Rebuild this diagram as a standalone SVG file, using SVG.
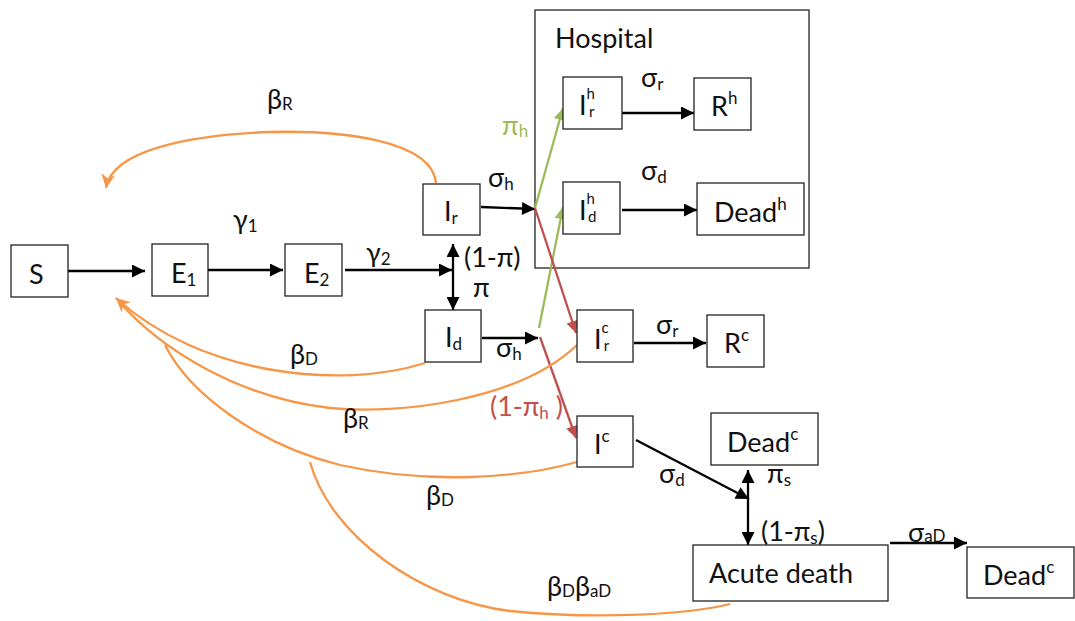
<svg xmlns="http://www.w3.org/2000/svg" width="1075" height="621" viewBox="0 0 1075 621">
<defs>
<style>
.box{fill:#fff;stroke:#222;stroke-width:1.3}
.t{font-family:Lato,"Open Sans",sans-serif;font-size:27px;fill:#111}
.l{font-family:Lato,"Open Sans",sans-serif;font-size:27px;fill:#111}
.s{font-size:17px}
.ss{font-size:15px}
.blk{stroke:#000;stroke-width:2.3;fill:none}
.org{stroke:#F79646;stroke-width:2.3;fill:none}
.grn{stroke:#9BBB59;stroke-width:2.3;fill:none}
.red{stroke:#C0504D;stroke-width:2.3;fill:none}
</style>
<marker id="ah" viewBox="0 0 10 10" refX="10" refY="5" markerWidth="15" markerHeight="13" markerUnits="userSpaceOnUse" orient="auto-start-reverse"><path d="M0,0 L10,5 L0,10z" fill="#000"/></marker>
<marker id="ag" viewBox="0 0 10 10" refX="10" refY="5" markerWidth="15" markerHeight="12" markerUnits="userSpaceOnUse" orient="auto"><path d="M0,0 L10,5 L0,10z" fill="#9BBB59"/></marker>
<marker id="ar" viewBox="0 0 10 10" refX="10" refY="5" markerWidth="15" markerHeight="12" markerUnits="userSpaceOnUse" orient="auto"><path d="M0,0 L10,5 L0,10z" fill="#C0504D"/></marker>
<marker id="ao" viewBox="0 0 10 10" refX="10" refY="5" markerWidth="16" markerHeight="14" markerUnits="userSpaceOnUse" orient="auto"><path d="M0,0 L10,5 L0,10 L3,5z" fill="#F79646"/></marker>
</defs>

<g id="hospital"><rect class="box" x="535" y="10" width="274" height="258"/><text class="t" x="555" y="48">Hospital</text></g>

<g id="connectors">
<line class="blk" x1="68" y1="271" x2="145" y2="271" marker-end="url(#ah)"/>
<line class="blk" x1="208" y1="270" x2="283" y2="270" marker-end="url(#ah)"/>
<line class="blk" x1="345" y1="270" x2="452" y2="270" marker-end="url(#ah)"/>
<line class="blk" x1="453" y1="244" x2="453" y2="310" marker-start="url(#ah)" marker-end="url(#ah)"/>
<line class="blk" x1="481" y1="207" x2="535" y2="209" marker-end="url(#ah)"/>
<line class="blk" x1="482" y1="338" x2="538" y2="338" marker-end="url(#ah)"/>
<line class="blk" x1="622" y1="113" x2="694" y2="113" marker-end="url(#ah)"/>
<line class="blk" x1="622" y1="210" x2="697" y2="210" marker-end="url(#ah)"/>
<line class="blk" x1="634" y1="343" x2="706" y2="343" marker-end="url(#ah)"/>
<line class="blk" x1="636" y1="440" x2="749" y2="499" marker-end="url(#ah)"/>
<line class="blk" x1="748" y1="470" x2="748" y2="545" marker-start="url(#ah)" marker-end="url(#ah)"/>
<line class="blk" x1="890" y1="543" x2="967" y2="543" marker-end="url(#ah)"/>
<line class="grn" x1="535" y1="208" x2="563" y2="108" marker-end="url(#ag)"/>
<line class="grn" x1="539" y1="328" x2="563" y2="207" marker-end="url(#ag)"/>
<line class="red" x1="535" y1="208" x2="576" y2="333" marker-end="url(#ar)"/>
<line class="red" x1="540" y1="337" x2="576" y2="438" marker-end="url(#ar)"/>
<path class="org" d="M436,183 C432,140 340,130 270,132 C190,135 112,150 106,188" marker-end="url(#ao)"/>
<path class="org" d="M425,363 C340,390 200,375 116,298" marker-end="url(#ao)"/>
<path class="org" d="M577,345 C520,400 400,415 330,408 C240,398 160,350 116,298"/>
<path class="org" d="M577,462 C520,478 430,485 340,465 C260,445 190,395 165,345"/>
<path class="org" d="M310,462 C330,535 420,600 510,611 C600,620 690,614 730,604"/>
</g>

<g id="S"><rect class="box" x="11" y="245" width="57" height="52"/><text class="t" x="29" y="284">S</text></g>
<g id="E1"><rect class="box" x="152" y="244" width="56" height="52"/><text class="t" x="171" y="283">E<tspan class="s" dy="3">1</tspan></text></g>
<g id="E2"><rect class="box" x="285" y="244" width="57" height="52"/><text class="t" x="304" y="283">E<tspan class="s" dy="3">2</tspan></text></g>
<g id="Ir"><rect class="box" x="423" y="184" width="57" height="51"/><text class="t" x="444" y="221">I<tspan class="s" dy="3">r</tspan></text></g>
<g id="Id"><rect class="box" x="425" y="310" width="56" height="52"/><text class="t" x="445" y="347">I<tspan class="s" dy="3">d</tspan></text></g>
<g id="Ihr"><rect class="box" x="563" y="77" width="59" height="52"/><text class="t" x="579" y="115">I<tspan class="ss" dy="-16">h</tspan><tspan class="ss" dx="-6" dy="18">r</tspan></text></g>
<g id="Rh"><rect class="box" x="694" y="78" width="57" height="52"/><text class="t" x="711" y="116">R<tspan class="s" dy="-12">h</tspan></text></g>
<g id="Ihd"><rect class="box" x="563" y="182" width="57" height="52"/><text class="t" x="579" y="220">I<tspan class="ss" dy="-16">h</tspan><tspan class="ss" dx="-7" dy="18">d</tspan></text></g>
<g id="Deadh"><rect class="box" x="697" y="183" width="107" height="52"/><text class="t" x="714" y="222">Dead<tspan class="s" dy="-12">h</tspan></text></g>
<g id="Icr"><rect class="box" x="577" y="310" width="56" height="52"/><text class="t" x="594" y="349">I<tspan class="ss" dy="-16">c</tspan><tspan class="ss" dx="-5" dy="18">r</tspan></text></g>
<g id="Rc"><rect class="box" x="707" y="315" width="57" height="52"/><text class="t" x="724" y="353">R<tspan class="s" dy="-12">c</tspan></text></g>
<g id="Ic"><rect class="box" x="577" y="416" width="56" height="51"/><text class="t" x="594" y="454">I<tspan class="s" dy="-12">c</tspan></text></g>
<g id="Deadc1"><rect class="box" x="711" y="413" width="107" height="52"/><text class="t" x="727" y="452">Dead<tspan class="s" dy="-12">c</tspan></text></g>
<g id="Acute"><rect class="box" x="693" y="545" width="195" height="56"/><text class="t" x="709" y="583">Acute death</text></g>
<g id="Deadc2"><rect class="box" x="967" y="547" width="107" height="51"/><text class="t" x="983" y="585">Dead<tspan class="s" dy="-12">c</tspan></text></g>

<g id="labels">
<text class="l" x="267" y="109">β<tspan class="s" dy="1">R</tspan></text>
<text class="l" x="233" y="229">γ<tspan class="s" dy="3">1</tspan></text>
<text class="l" x="366" y="262">γ<tspan class="s" dy="3">2</tspan></text>
<text class="l" x="488" y="187">σ<tspan class="s" dy="3">h</tspan></text>
<text class="l" x="464" y="267">(1-π)</text>
<text class="l" x="473" y="297">π</text>
<text class="l" x="502" y="135" style="fill:#9BBB59">π<tspan class="s" dy="2">h</tspan></text>
<text class="l" x="641" y="87">σ<tspan class="s" dy="3">r</tspan></text>
<text class="l" x="641" y="180">σ<tspan class="s" dy="3">d</tspan></text>
<text class="l" x="496" y="357">σ<tspan class="s" dy="3">h</tspan></text>
<text class="l" x="290" y="364">β<tspan class="s" dy="1">D</tspan></text>
<text class="l" x="343" y="428">β<tspan class="s" dy="1">R</tspan></text>
<text class="l" x="490" y="416" style="fill:#C0504D">(1-π<tspan class="s" dy="3">h</tspan><tspan dy="-3"> )</tspan></text>
<text class="l" x="426" y="505">β<tspan class="s" dy="1">D</tspan></text>
<text class="l" x="656" y="334">σ<tspan class="s" dy="3">r</tspan></text>
<text class="l" x="659" y="483">σ<tspan class="s" dy="3">d</tspan></text>
<text class="l" x="767" y="483">π<tspan class="s" dy="3">s</tspan></text>
<text class="l" x="761" y="541">(1-π<tspan class="s" dy="3">s</tspan><tspan dy="-3">)</tspan></text>
<text class="l" x="908" y="542">σ<tspan class="s">aD</tspan></text>
<text class="l" x="547" y="596">β<tspan class="s" dy="1">D</tspan><tspan dy="-1">β</tspan><tspan class="s" dy="1">aD</tspan></text>
</g>
</svg>
